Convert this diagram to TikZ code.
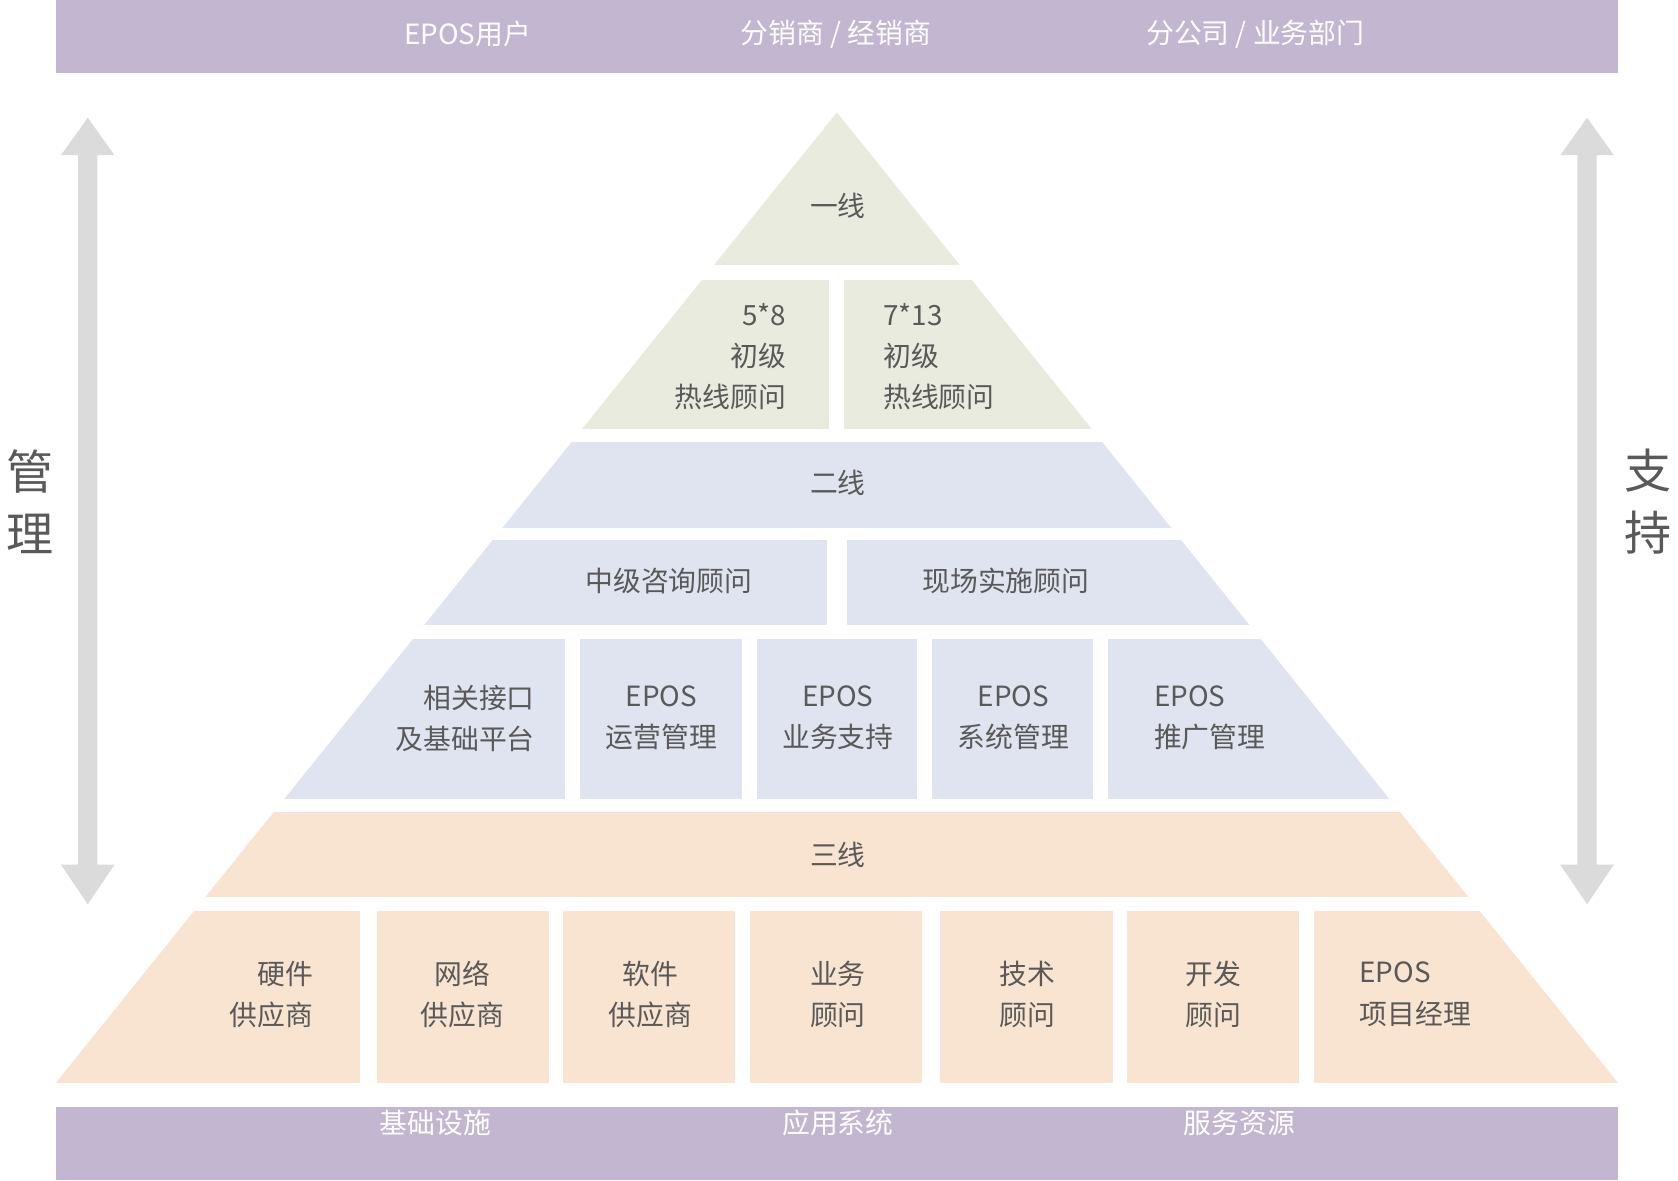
\documentclass[tikz,border=0pt]{standalone}
\usepackage{fontspec}
\setmainfont{Noto Sans CJK SC}
\definecolor{barc}{HTML}{C3B6D1}
\definecolor{greenc}{HTML}{E8EBDE}
\definecolor{bluec}{HTML}{DFE4F0}
\definecolor{peachc}{HTML}{F8E4D0}
\definecolor{arrowc}{HTML}{DBDBDB}
\definecolor{txtc}{HTML}{595959}
\begin{document}
\begin{tikzpicture}[x=0.5pt,y=-0.5pt,
  lbl/.style={inner sep=0pt, text=txtc, font=\fontsize{13}{19.2}\selectfont},
  barlbl/.style={inner sep=0pt, text=white, font=\fontsize{13}{16}\selectfont},
  sidelbl/.style={inner sep=0pt, text=txtc, font=\fontsize{22}{29}\selectfont, align=center}]
\useasboundingbox (0,0) rectangle (1568,1103);
% bars
\fill[barc] (52,0) rectangle (1512,68);
\fill[barc] (52,1034) rectangle (1512,1103);
\node[barlbl] (u1) at (437,32) {EPOS用户};
\node[barlbl] (u2) at (781,32) {分销商 / 经销商};
\node[barlbl] (u3) at (1173,32) {分公司 / 业务部门};
\node[barlbl] (b1) at (407,1049) {基础设施};
\node[barlbl] (b2) at (783,1049) {应用系统};
\node[barlbl] (b3) at (1158,1049) {服务资源};
% arrows
\fill[arrowc] (82,110) -- (107,145) -- (91,145) -- (91,808) -- (107,808) -- (82,845)
  -- (57,808) -- (73,808) -- (73,145) -- (57,145) -- cycle;
\fill[arrowc] (1483,110) -- (1508,145) -- (1492,145) -- (1492,808) -- (1508,808) -- (1483,845)
  -- (1458,808) -- (1474,808) -- (1474,145) -- (1458,145) -- cycle;
\node[sidelbl] (mg) at (28,469) {管\\理};
\node[sidelbl] (zc) at (1540,469) {支\\持};
% pyramid
\begin{scope}
\clip (782,105) -- (1512,1012) -- (52,1012) -- cycle;
\fill[greenc] (0,100) rectangle (1568,248);
\fill[greenc] (0,262) rectangle (775,401);
\fill[greenc] (789,262) rectangle (1568,401);
\fill[bluec] (0,413) rectangle (1568,493);
\fill[bluec] (0,505) rectangle (773,584);
\fill[bluec] (791,505) rectangle (1568,584);
\fill[bluec] (0,597) rectangle (528,747);
\fill[bluec] (542,597) rectangle (693,747);
\fill[bluec] (707,597) rectangle (857,747);
\fill[bluec] (871,597) rectangle (1021,747);
\fill[bluec] (1035,597) rectangle (1568,747);
\fill[peachc] (0,759) rectangle (1568,838);
\fill[peachc] (0,851) rectangle (336,1012);
\fill[peachc] (352,851) rectangle (513,1012);
\fill[peachc] (526,851) rectangle (687,1012);
\fill[peachc] (701,851) rectangle (862,1012);
\fill[peachc] (878,851) rectangle (1040,1012);
\fill[peachc] (1053,851) rectangle (1214,1012);
\fill[peachc] (1228,851) rectangle (1568,1012);
\end{scope}
% texts
\node[lbl] (l1) at (783,192) {一线};
\node[lbl, anchor=east, align=right] (h1) at (735,333) {5*8\\初级\\热线顾问};
\node[lbl, anchor=west, align=left] (h2) at (825,333) {7*13\\初级\\热线顾问};
\node[lbl] (l2) at (783,451) {二线};
\node[lbl] (m1) at (625,543) {中级咨询顾问};
\node[lbl] (m2) at (940,543) {现场实施顾问};
\node[lbl, anchor=east, align=right] (s1) at (500,671) {相关接口\\及基础平台};
\node[lbl, align=center] (s2) at (618,671) {EPOS\\运营管理};
\node[lbl, align=center] (s3) at (783,671) {EPOS\\业务支持};
\node[lbl, align=center] (s4) at (947,671) {EPOS\\系统管理};
\node[lbl, anchor=west, align=left] (s5) at (1078,671) {EPOS\\推广管理};
\node[lbl] (l3) at (783,799) {三线};
\node[lbl, anchor=east, align=right] (t1) at (293,929) {硬件\\供应商};
\node[lbl, align=center] (t2) at (432,929) {网络\\供应商};
\node[lbl, align=center] (t3) at (608,929) {软件\\供应商};
\node[lbl, align=center] (t4) at (783,929) {业务\\顾问};
\node[lbl, align=center] (t5) at (960,929) {技术\\顾问};
\node[lbl, align=center] (t6) at (1134,929) {开发\\顾问};
\node[lbl, anchor=west, align=left] (t7) at (1270,929) {EPOS\\项目经理};
\end{tikzpicture}
\end{document}
